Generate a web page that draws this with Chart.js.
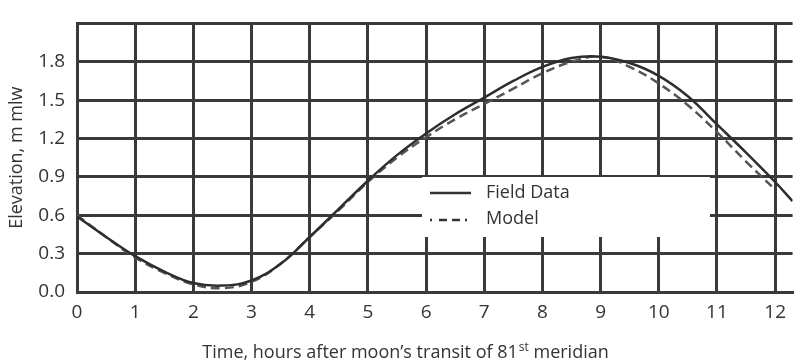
<!DOCTYPE html>
<html lang="en">
<head>
  <meta charset="UTF-8" />
  <title>Elevation vs time</title>
  <script src="https://cdn.jsdelivr.net/npm/chart.js"></script>
  <style>
    html, body { margin: 0; padding: 0; background: #fff; }
    #wrap { width: 795px; height: 364px; }
  </style>
</head>
<body>
  <div id="wrap"><canvas id="chart"></canvas></div>
  <script>
    // hours after transit
    const hours = [0, 0.5, 1, 1.5, 2, 2.5, 3, 3.5, 4, 4.5, 5, 5.5, 6, 6.5, 7, 7.5, 8, 8.5, 9, 9.5, 10, 10.5, 11, 11.5, 12, 12.3];
    const fieldData = [0.59, 0.43, 0.28, 0.16, 0.07, 0.05, 0.09, 0.22, 0.43, 0.65, 0.87, 1.07, 1.24, 1.39, 1.52, 1.65, 1.76, 1.83, 1.84, 1.79, 1.69, 1.53, 1.31, 1.09, 0.86, 0.71];
    const modelHours = [0, 0.5, 1, 1.5, 2, 2.5, 3, 3.5, 4, 4.5, 5, 5.5, 6, 6.5, 7, 7.5, 8, 8.5, 9, 9.5, 10, 10.5, 11, 11.5, 12];
    const modelData = [0.60, 0.43, 0.27, 0.15, 0.06, 0.03, 0.08, 0.22, 0.43, 0.64, 0.86, 1.05, 1.21, 1.35, 1.47, 1.59, 1.71, 1.80, 1.84, 1.76, 1.63, 1.46, 1.25, 1.02, 0.80];
    const xTicks = [0, 1, 2, 3, 4, 5, 6, 7, 8, 9, 10, 11, 12];
    const yTicks = [0, 0.3, 0.6, 0.9, 1.2, 1.5, 1.8, 2.1];

    const gridColor = '#3a3a3a';
    const textColor = '#333';
    const font = '"Open Sans", sans-serif';

    const toPoints = (xs, ys) => xs.map((x, i) => ({ x: x, y: ys[i] }));

    // white legend box sitting on the grid, like the original scan
    const legendBox = {
      id: 'legendBox',
      beforeDatasetsDraw(chart) {
        const ctx = chart.ctx;
        ctx.save();
        ctx.fillStyle = '#fff';
        ctx.fillRect(422, 177, 288, 60);
        ctx.strokeStyle = '#333';
        ctx.lineWidth = 2.5;
        ctx.beginPath();
        ctx.moveTo(430, 193);
        ctx.lineTo(471, 193);
        ctx.stroke();
        ctx.setLineDash([2, 7, 8, 5, 8, 5]);
        ctx.beginPath();
        ctx.moveTo(430, 220);
        ctx.lineTo(471, 220);
        ctx.stroke();
        ctx.setLineDash([]);
        ctx.fillStyle = textColor;
        ctx.font = '18px ' + font;
        ctx.textBaseline = 'middle';
        ctx.fillText('Field Data', 486, 193);
        ctx.fillText('Model', 486, 219);
        ctx.restore();
      }
    };

    // x axis title with superscript "st"
    const xTitle = {
      id: 'xTitle',
      afterDraw(chart) {
        const ctx = chart.ctx;
        const a = 'Time, hours after moon\u2019s transit of 81';
        const sup = 'st';
        const b = ' meridian';
        ctx.save();
        ctx.fillStyle = textColor;
        ctx.textBaseline = 'alphabetic';
        ctx.font = '18px ' + font;
        const wa = ctx.measureText(a).width;
        const wb = ctx.measureText(b).width;
        ctx.font = '12px ' + font;
        const ws = ctx.measureText(sup).width;
        let x = 405 - (wa + ws + wb) / 2;
        const y = 358;
        ctx.font = '18px ' + font;
        ctx.fillText(a, x, y);
        x += wa;
        ctx.font = '12px ' + font;
        ctx.fillText(sup, x + 1, y - 7);
        x += ws + 1;
        ctx.font = '18px ' + font;
        ctx.fillText(b, x, y);
        ctx.restore();
      }
    };

    new Chart(document.getElementById('chart'), {
      type: 'line',
      data: {
        datasets: [
          {
            label: 'Field Data',
            data: toPoints(hours, fieldData),
            borderColor: '#2e2e2e',
            borderWidth: 2.5,
            pointRadius: 0,
            tension: 0.4,
            fill: false
          },
          {
            label: 'Model',
            data: toPoints(modelHours, modelData),
            borderColor: '#555',
            borderWidth: 2.5,
            borderDash: [9, 5],
            pointRadius: 0,
            tension: 0.4,
            fill: false
          }
        ]
      },
      options: {
        responsive: true,
        maintainAspectRatio: false,
        animation: false,
        layout: { padding: { top: 14, right: 0, left: 0, bottom: 0 } },
        plugins: {
          legend: { display: false },
          tooltip: { enabled: false }
        },
        scales: {
          x: {
            type: 'linear',
            min: 0,
            max: 12.3,
            afterBuildTicks: axis => { axis.ticks = xTicks.map(v => ({ value: v })); },
            afterFit: axis => { axis.height = 72; },
            grid: { color: gridColor, lineWidth: 3, drawTicks: false },
            border: { color: gridColor, width: 3 },
            ticks: {
              color: textColor,
              font: { family: font, size: 19 },
              padding: 9,
              maxRotation: 0,
              callback: v => String(v)
            }
          },
          y: {
            min: 0,
            max: 2.1,
            afterBuildTicks: axis => { axis.ticks = yTicks.map(v => ({ value: v })); },
            afterFit: axis => { axis.width = 77; },
            grid: { color: gridColor, lineWidth: 3, drawTicks: false },
            border: { color: gridColor, width: 3 },
            ticks: {
              color: textColor,
              font: { family: font, size: 19 },
              padding: 12,
              callback: v => (v > 2 ? '' : v.toFixed(1))
            },
            title: {
              display: true,
              text: 'Elevation, m mlw',
              color: textColor,
              font: { family: font, size: 18 },
              padding: { top: 6, bottom: 0 }
            }
          }
        }
      },
      plugins: [legendBox, xTitle]
    });
  </script>
</body>
</html>
